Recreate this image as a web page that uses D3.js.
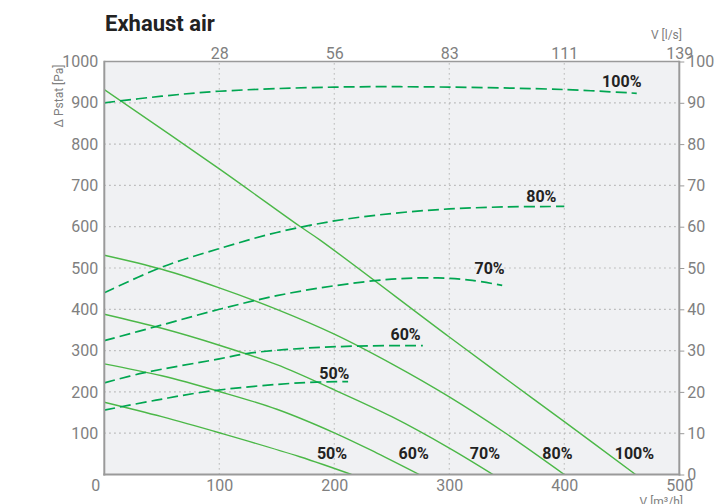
<!DOCTYPE html>
<html>
<head>
<meta charset="utf-8">
<script src="https://cdn.jsdelivr.net/npm/d3@7/dist/d3.min.js"></script>
<style>
body{margin:0;background:#fff}
text{font-family:Roboto, 'Open Sans', sans-serif}
</style>
</head>
<body>
<svg id="chart" width="717" height="504"></svg>
<script>
// axes
var flowTicks = [0, 100, 200, 300, 400, 500]
var lsLabels = ['', '28', '56', '83', '111', '139']
var paTicks = [100, 200, 300, 400, 500, 600, 700, 800, 900, 1000]
var powerTicks = [0, 10, 20, 30, 40, 50, 60, 70, 80, 90, 100]

// fan curves: [flow m3/h, pressure Pa]
var speeds = ['50%', '60%', '70%', '80%', '100%']
var pressure50 = [[0, 175], [50, 140], [100, 101], [170, 43], [215, 0]]
var pressure60 = [[0, 268], [50, 239], [100, 201], [150, 158], [200, 101], [237, 52], [274, 0]]
var pressure70 = [[0, 388], [50, 354], [100, 313], [150, 266], [200, 205], [250, 140], [300, 64], [338, 0]]
var pressure80 = [[0, 531], [50, 497], [100, 452], [150, 400], [200, 340], [250, 268], [300, 188], [350, 98], [400, 0]]
var pressure100 = [[0, 932], [100, 740], [170, 601], [188, 567], [300, 333], [353, 224], [400, 128], [462, 0]]

// power curves: [flow m3/h, right axis value]
var power50 = [[0, 15.6], [45, 18.0], [95, 20.3], [170, 22.2], [212, 22.5]]
var power60 = [[0, 22.2], [34, 24.6], [100, 28.0], [124, 29.3], [170, 30.5], [220, 31.1], [277, 31.2]]
var power70 = [[0, 32.4], [50, 36.2], [100, 40.0], [150, 43.3], [200, 45.7], [250, 47.3], [290, 47.6], [320, 47.0], [346, 45.8]]
var power80 = [[0, 44.0], [50, 50.2], [100, 54.7], [150, 58.6], [200, 61.4], [250, 63.2], [300, 64.3], [350, 64.8], [400, 64.9]]
var power100 = [[0, 90.0], [50, 91.6], [100, 92.8], [200, 93.8], [300, 93.8], [400, 93.2], [463, 92.3]]

// label anchors in data units
var pressureLabelFlow = [198, 269, 331, 394, 461]
var pressureLabelPa = 52
var powerLabels = [[200, 24.5], [262, 33.9], [335, 49.9], [380, 67.4], [450, 95.2]]

var pressures = [pressure50, pressure60, pressure70, pressure80, pressure100]
var powers = [power50, power60, power70, power80, power100]

var solidColor = '#4cb848',
	dashColor = '#00a651',
	axisColor = '#9a9a9a',
	labelColor = '#808080'

var svg = d3.select('#chart')

var x = d3.scaleLinear().domain([0, 500]).range([104.3, 679.3])
var y = d3.scaleLinear().domain([0, 1000]).range([474.5, 61.5])
var yR = d3.scaleLinear().domain([0, 100]).range([474.5, 61.5])

// plot background
svg.append('rect')
	.attr('x', x(0)).attr('y', y(1000))
	.attr('width', x(500) - x(0)).attr('height', y(0) - y(1000))
	.attr('fill', '#f0f1f3')

// grid
svg.append('g').selectAll('line')
	.data(paTicks.filter(function(d){ return d < 1000 }))
	.enter().append('line')
	.attr('x1', x(0)).attr('x2', x(500))
	.attr('y1', function(d){ return y(d) }).attr('y2', function(d){ return y(d) })
	.attr('stroke', '#a8a8a8').attr('stroke-width', 1.2).attr('stroke-dasharray', '1.3,3.7')

svg.append('g').selectAll('line')
	.data(flowTicks.filter(function(d){ return d > 0 && d < 500 }))
	.enter().append('line')
	.attr('y1', y(0)).attr('y2', y(1000))
	.attr('x1', function(d){ return x(d) }).attr('x2', function(d){ return x(d) })
	.attr('stroke', '#b4b4b4').attr('stroke-width', 1.2).attr('stroke-dasharray', '1.3,3.7')

// curves
svg.append('clipPath').attr('id', 'plot').append('rect')
	.attr('x', x(0)).attr('y', y(1000))
	.attr('width', x(500) - x(0)).attr('height', y(0) - y(1000))

var linePa = d3.line()
	.x(function(d){ return x(d[0]) })
	.y(function(d){ return y(d[1]) })
	.curve(d3.curveCatmullRom.alpha(0.5))

var lineW = d3.line()
	.x(function(d){ return x(d[0]) })
	.y(function(d){ return yR(d[1]) })
	.curve(d3.curveCatmullRom.alpha(0.5))

var curves = svg.append('g').attr('clip-path', 'url(#plot)')

curves.selectAll('.pa').data(pressures).enter().append('path')
	.attr('class', 'pa')
	.attr('d', linePa)
	.attr('fill', 'none').attr('stroke', solidColor).attr('stroke-width', 1.4)

curves.selectAll('.w').data(powers).enter().append('path')
	.attr('class', 'w')
	.attr('d', lineW)
	.attr('fill', 'none').attr('stroke', dashColor).attr('stroke-width', 1.7)
	.attr('stroke-dasharray', '11,5')

// axes
function styleAxis(g){
	g.select('.domain').remove()
	g.selectAll('text').attr('fill', labelColor).style('font-size', '16px')
	g.selectAll('line').attr('stroke', axisColor)
}

svg.append('g')
	.attr('transform', 'translate(' + x(0) + ',0)')
	.call(d3.axisLeft(y).tickValues(paTicks).tickSize(0).tickPadding(6).tickFormat(d3.format('d')))
	.call(styleAxis)

var bottom = svg.append('g')
	.attr('transform', 'translate(0,' + y(0) + ')')
	.call(d3.axisBottom(x).tickValues(flowTicks).tickSize(0).tickPadding(5).tickFormat(d3.format('d')))
	.call(styleAxis)
bottom.selectAll('text').filter(function(d){ return d === 0 }).attr('dx', -9)

svg.append('g')
	.attr('transform', 'translate(0,' + y(1000) + ')')
	.call(d3.axisTop(x).tickValues(flowTicks).tickSize(0).tickPadding(3)
		.tickFormat(function(d, i){ return lsLabels[i] }))
	.call(styleAxis)

svg.append('g')
	.attr('transform', 'translate(' + x(500) + ',0)')
	.call(d3.axisRight(yR).tickValues(powerTicks).tickSize(5).tickPadding(3).tickFormat(d3.format('d')))
	.call(styleAxis)

// frame
svg.append('line').attr('x1', x(0)).attr('x2', x(500)).attr('y1', y(1000)).attr('y2', y(1000))
	.attr('stroke', axisColor).attr('stroke-width', 1.5)
svg.append('line').attr('x1', x(0)).attr('x2', x(0)).attr('y1', y(1000) - 0.75).attr('y2', y(0) + 1)
	.attr('stroke', axisColor).attr('stroke-width', 2)
svg.append('line').attr('x1', x(500)).attr('x2', x(500)).attr('y1', y(1000) - 0.75).attr('y2', y(0) + 1)
	.attr('stroke', axisColor).attr('stroke-width', 2)
svg.append('line').attr('x1', x(0) - 1).attr('x2', x(500) + 1).attr('y1', y(0)).attr('y2', y(0))
	.attr('stroke', axisColor).attr('stroke-width', 2.2)

// curve labels
svg.append('g').selectAll('text').data(speeds).enter().append('text')
	.attr('x', function(d, i){ return x(pressureLabelFlow[i]) })
	.attr('y', y(pressureLabelPa))
	.attr('dy', '0.35em')
	.attr('text-anchor', 'middle')
	.attr('fill', '#222').style('font-size', '16px').style('font-weight', 'bold')
	.text(function(d){ return d })

svg.append('g').selectAll('text').data(speeds).enter().append('text')
	.attr('x', function(d, i){ return x(powerLabels[i][0]) })
	.attr('y', function(d, i){ return yR(powerLabels[i][1]) })
	.attr('dy', '0.35em')
	.attr('text-anchor', 'middle')
	.attr('fill', '#222').style('font-size', '16px').style('font-weight', 'bold')
	.text(function(d){ return d })

// titles
svg.append('text').attr('x', 105).attr('y', 31)
	.attr('fill', '#222').style('font-size', '22px').style('font-weight', 'bold')
	.text('Exhaust air')

svg.append('text').attr('x', 682).attr('y', 39)
	.attr('text-anchor', 'end').attr('fill', labelColor).style('font-size', '12px')
	.text('V [l/s]')

svg.append('text').attr('x', 683).attr('y', 506)
	.attr('text-anchor', 'end').attr('fill', labelColor).style('font-size', '12px')
	.text('V [m³/h]')

svg.append('text')
	.attr('transform', 'translate(63,96) rotate(-90)')
	.attr('text-anchor', 'middle').attr('fill', labelColor).style('font-size', '12px')
	.text('Δ Pstat [Pa]')
</script>
</body>
</html>
